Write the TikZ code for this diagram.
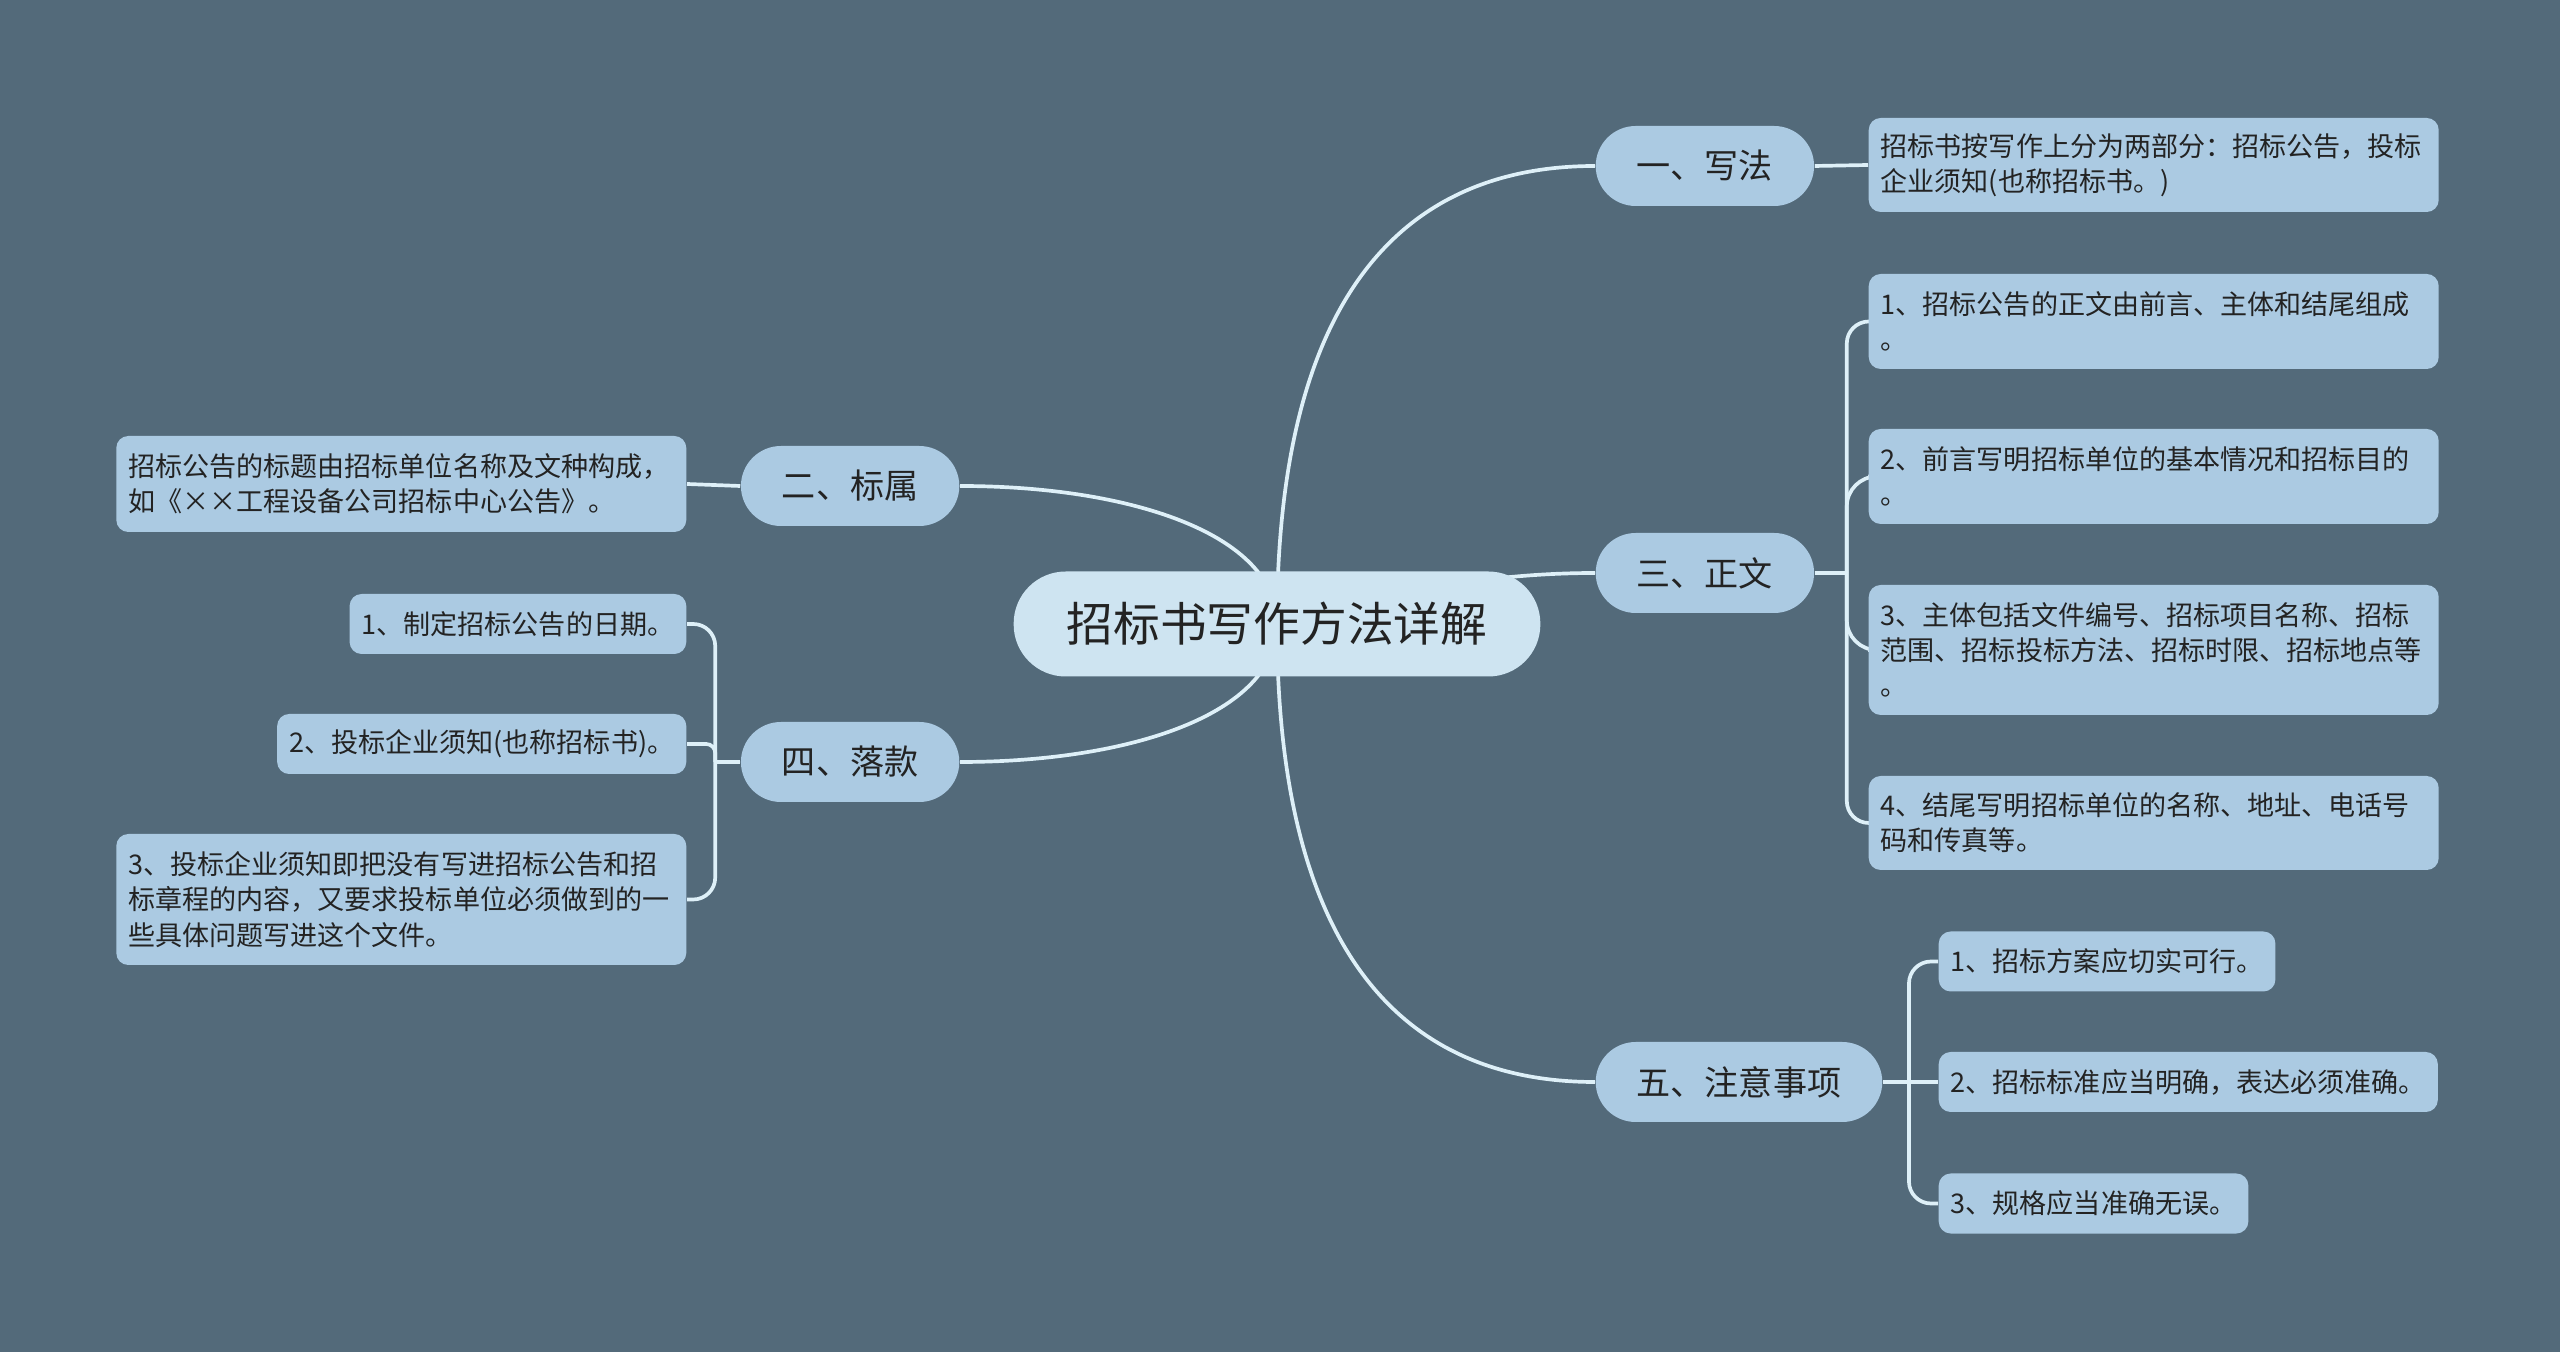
\documentclass[tikz,border=0pt]{standalone}
\usepackage{fontspec}
\setmainfont{Noto Sans CJK SC}
\usepackage{tikz}
\definecolor{slatebg}{RGB}{83,106,122}
\definecolor{rootfill}{RGB}{206,228,241}
\definecolor{topicfill}{RGB}{171,202,226}
\definecolor{linkline}{RGB}{222,240,248}
\definecolor{inktext}{RGB}{35,35,35}
\pgfdeclarelayer{bg}
\pgfdeclarelayer{links}
\pgfsetlayers{bg,links,main}

\tikzset{
  rootbox/.style={fill=rootfill, rounded corners=0.52cm, minimum height=1.05cm, inner xsep=0.53cm, text=inktext, font=\fontsize{13.3pt}{16pt}\selectfont},
  topicbox/.style={fill=topicfill, rounded corners=0.4cm, minimum height=0.8cm, inner xsep=0.41cm, text=inktext, font=\fontsize{9.7pt}{12pt}\selectfont},
  leafbox/.style={fill=topicfill, rounded corners=0.12cm, inner xsep=0.12cm, inner ysep=0.1cm, minimum height=0.6cm, text=inktext, font=\fontsize{7.7pt}{10pt}\selectfont},
  widebox/.style={leafbox, text width=5.46cm, align=left},
  link/.style={draw=linkline, line width=1.05pt},
}

\begin{document}
\begin{tikzpicture}
  \useasboundingbox (0,0) rectangle (25.6,-13.52);

  % Central topic
  \node[rootbox] (root) at (12.77,-6.24) {招标书写作方法详解};

  % Main topics, right side
  \node[topicbox, anchor=west] (xiefa) at (15.95,-1.66) {一、写法};
  \node[topicbox, anchor=west] (zhengwen) at (15.95,-5.73) {三、正文};
  \node[topicbox, anchor=west] (zhuyi) at (15.95,-10.82) {五、注意事项};

  % Main topics, left side
  \node[topicbox, anchor=east] (biaoshu) at (9.60,-4.86) {二、标属};
  \node[topicbox, anchor=east] (luokuan) at (9.60,-7.62) {四、落款};

  % Leaves of 写法
  \node[widebox, anchor=west, minimum height=0.94cm] (xiefa1) at (18.68,-1.65) {招标书按写作上分为两部分：招标公告，投标\\企业须知(也称招标书。)};

  % Leaves of 正文
  \node[widebox, anchor=west, minimum height=0.95cm] (zw1) at (18.68,-3.215) {1、招标公告的正文由前言、主体和结尾组成\\。};
  \node[widebox, anchor=west, minimum height=0.95cm] (zw2) at (18.68,-4.765) {2、前言写明招标单位的基本情况和招标目的\\。};
  \node[widebox, anchor=west, minimum height=1.3cm] (zw3) at (18.68,-6.50) {3、主体包括文件编号、招标项目名称、招标\\范围、招标投标方法、招标时限、招标地点等\\。};
  \node[widebox, anchor=west, minimum height=0.94cm] (zw4) at (18.68,-8.23) {4、结尾写明招标单位的名称、地址、电话号\\码和传真等。};

  % Leaves of 注意事项
  \node[leafbox, anchor=west] (zy1) at (19.38,-9.615) {1、招标方案应切实可行。};
  \node[leafbox, anchor=west] (zy2) at (19.38,-10.82) {2、招标标准应当明确，表达必须准确。};
  \node[leafbox, anchor=west] (zy3) at (19.38,-12.035) {3、规格应当准确无误。};

  % Leaves of 标属
  \node[widebox, anchor=east, minimum height=0.96cm] (bs1) at (6.87,-4.84) {招标公告的标题由招标单位名称及文种构成，\\如《××工程设备公司招标中心公告》。};

  % Leaves of 落款
  \node[leafbox, anchor=east] (lk1) at (6.87,-6.24) {1、制定招标公告的日期。};
  \node[leafbox, anchor=east] (lk2) at (6.87,-7.44) {2、投标企业须知(也称招标书)。};
  \node[widebox, anchor=east, minimum height=1.31cm] (lk3) at (6.87,-8.995) {3、投标企业须知即把没有写进招标公告和招\\标章程的内容，又要求投标单位必须做到的一\\些具体问题写进这个文件。};

  % Background
  \begin{pgfonlayer}{bg}
    \fill[slatebg] (0,0) rectangle (25.6,-13.52);
  \end{pgfonlayer}

  % Connectors
  \begin{pgfonlayer}{links}
    \draw[link] (root.center) .. controls +(0,3.24) and +(-1.95,0) .. (xiefa.west);
    \draw[link] (root.center) .. controls +(1.5,0.45) and +(-0.6,0) .. (zhengwen.west);
    \draw[link] (root.center) .. controls +(0,-3.24) and +(-1.95,0) .. (zhuyi.west);
    \draw[link] (biaoshu.east) .. controls +(1.7,0) and +(0,0.9) .. (root.center);
    \draw[link] (luokuan.east) .. controls +(1.7,0) and +(0,-0.9) .. (root.center);

    \draw[link] (xiefa.east) -- (xiefa1.west);
    \draw[link] (zhengwen.east) -- ++(0.32,0) coordinate (zwj);
    \foreach \leaf/\r in {zw1/0.22,zw2/0.3,zw3/0.3,zw4/0.22}
      \draw[link, rounded corners=\r cm] (zwj) |- (\leaf.west);
    \draw[link] (zhuyi.east) -- (zy2.west);
    \path (zhuyi.east) -- ++(0.26,0) coordinate (zyj);
    \foreach \leaf in {zy1,zy3}
      \draw[link, rounded corners=0.22cm] (zyj) |- (\leaf.west);
    \draw[link] (biaoshu.west) -- (bs1.east);
    \draw[link] (luokuan.west) -- ++(-0.25,0) coordinate (lkj);
    \foreach \leaf/\r in {lk1/0.22,lk2/0.09,lk3/0.22}
      \draw[link, rounded corners=\r cm] (lkj) |- (\leaf.east);
  \end{pgfonlayer}
\end{tikzpicture}
\end{document}
